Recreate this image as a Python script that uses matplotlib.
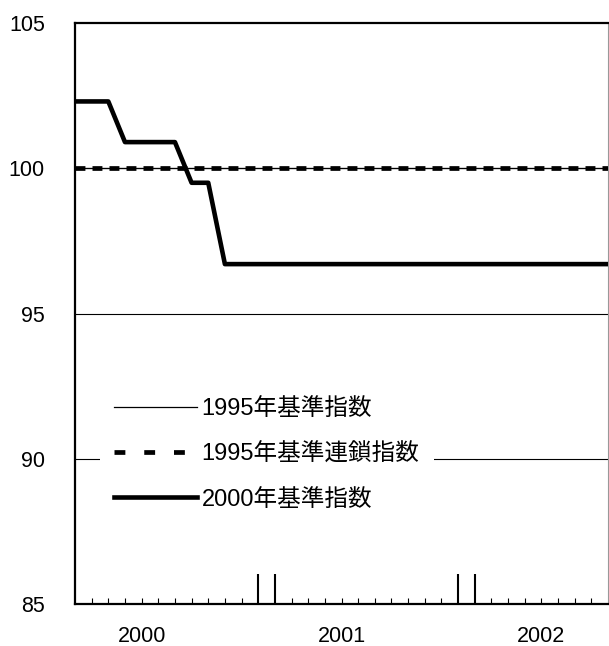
import matplotlib
matplotlib.use('Agg')
import numpy as np
import matplotlib.pyplot as plt
from matplotlib.lines import Line2D

plt.rcParams['font.family'] = ['Liberation Sans', 'Noto Sans CJK JP']

# monthly positions (0 = first month shown)
months = np.arange(33)
idx_1995 = [100.0, 100.0, 100.0, 100.0, 100.0, 100.0, 100.0, 100.0, 100.0, 100.0, 100.0,
            100.0, 100.0, 100.0, 100.0, 100.0, 100.0, 100.0, 100.0, 100.0, 100.0, 100.0,
            100.0, 100.0, 100.0, 100.0, 100.0, 100.0, 100.0, 100.0, 100.0, 100.0, 100.0]
chain_1995 = [100.0, 100.0, 100.0, 100.0, 100.0, 100.0, 100.0, 100.0, 100.0, 100.0, 100.0,
              100.0, 100.0, 100.0, 100.0, 100.0, 100.0, 100.0, 100.0, 100.0, 100.0, 100.0,
              100.0, 100.0, 100.0, 100.0, 100.0, 100.0, 100.0, 100.0, 100.0, 100.0, 100.0]
idx_2000 = [102.3, 102.3, 102.3, 100.9, 100.9, 100.9, 100.9, 99.5, 99.5, 96.7, 96.7,
            96.7, 96.7, 96.7, 96.7, 96.7, 96.7, 96.7, 96.7, 96.7, 96.7, 96.7,
            96.7, 96.7, 96.7, 96.7, 96.7, 96.7, 96.7, 96.7, 96.7, 96.7, 96.7]

labels = ['1995年基準指数', '1995年基準連鎖指数', '2000年基準指数']
year_labels = ['2000', '2001', '2002']
year_pos = [4, 16, 28]
year_breaks = [11, 12, 23, 24]
y_ticks = [85, 90, 95, 100, 105]

fig = plt.figure(figsize=(6.09, 6.46), dpi=100)
ax = fig.add_axes([75/609, 42/646, 533/609, 581/646])

ax.set_xlim(0, 32)
ax.set_ylim(85, 105)

for y in [90, 95, 100]:
    ax.axhline(y, color='black', lw=0.8, zorder=1)

l1, = ax.plot(months, idx_1995, color='black', lw=0.9, zorder=2)
l2, = ax.plot(months, chain_1995, color='black', lw=3.4,
              linestyle=(0, (2.1, 1.5)), dash_capstyle='butt', zorder=3)
l3, = ax.plot(months, idx_2000, color='black', lw=3.3, zorder=4)

# legend sample for the chained index uses wider gaps, as in the original
h2 = Line2D([], [], color='black', lw=3.4, linestyle=(0, (2.3, 4.0)),
            dash_capstyle='butt')

ax.set_yticks(y_ticks)
ax.tick_params(axis='y', length=0, pad=21.6, labelsize=15.5)

small = [m for m in range(1, 32) if m not in year_breaks]
ax.set_xticks(year_breaks, labels=['']*len(year_breaks))
ax.set_xticks(small, labels=[year_labels[year_pos.index(m)] if m in year_pos else ''
                             for m in small], minor=True)
ax.tick_params(axis='x', which='major', direction='in', length=21.6, width=1.5)
ax.tick_params(axis='x', which='minor', direction='in', length=4.3, width=0.8,
               pad=16, labelsize=15.5)

for s in ['left', 'bottom', 'top']:
    ax.spines[s].set_linewidth(1.6)
ax.spines['right'].set_linewidth(0.8)
ax.spines['right'].set_color('#999999')

leg = ax.legend([l1, h2, l3], labels, loc='upper left',
                bbox_to_anchor=(25/533, 1 - 361/581), borderaxespad=0,
                fontsize=17, frameon=True, facecolor='white', edgecolor='none',
                framealpha=1, fancybox=False, handlelength=3.5, handletextpad=0.2,
                borderpad=0.6, labelspacing=0.98)
leg.set_zorder(5)

fig.savefig('out.png', dpi=100)
